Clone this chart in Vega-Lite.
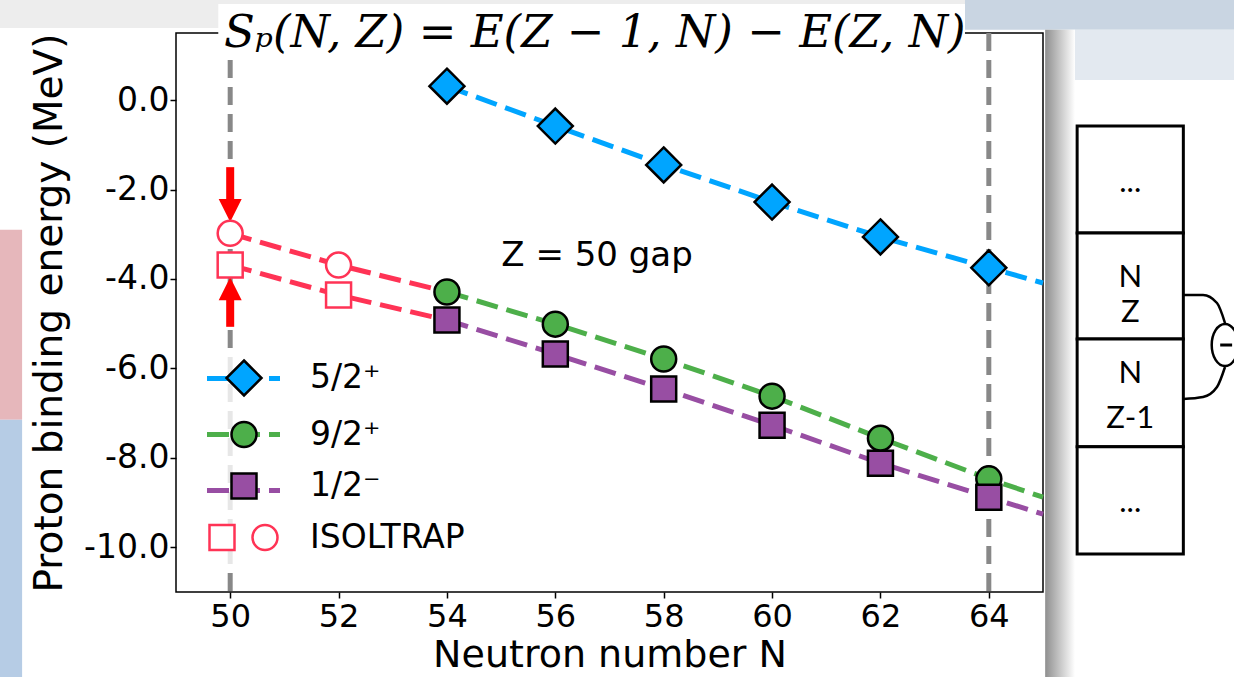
{
"$schema":"https://vega.github.io/schema/vega-lite/v6.json",
"width":867,"height":559,
"autosize":{"type":"none"},
"padding":{"left":176,"top":33,"right":191,"bottom":85},
"background":"white",
"config":{"font":"DejaVu Sans","view":{"stroke":"black","strokeWidth":1.5},
"axis":{"grid":false,"domain":false,"tickColor":"black","tickWidth":1.5,"tickSize":6,"labelColor":"black","labelFont":"DejaVu Sans","titleFont":"DejaVu Sans","titleFontWeight":"normal","titleColor":"black"},
"legend":{"labelFont":"DejaVu Sans","labelColor":"black"}},
"datasets":{
"theory":[
{"label":"5/2⁺","N":54,"E":0.31},{"label":"5/2⁺","N":56,"E":-0.58},{"label":"5/2⁺","N":58,"E":-1.45},{"label":"5/2⁺","N":60,"E":-2.28},{"label":"5/2⁺","N":62,"E":-3.06},{"label":"5/2⁺","N":64,"E":-3.75},{"label":"5/2⁺","N":65,"E":-4.09},
{"label":"9/2⁺","N":54,"E":-4.29},{"label":"9/2⁺","N":56,"E":-5.01},{"label":"9/2⁺","N":58,"E":-5.79},{"label":"9/2⁺","N":60,"E":-6.62},{"label":"9/2⁺","N":62,"E":-7.56},{"label":"9/2⁺","N":64,"E":-8.47},{"label":"9/2⁺","N":65,"E":-8.88},
{"label":"1/2⁻","N":54,"E":-4.92},{"label":"1/2⁻","N":56,"E":-5.68},{"label":"1/2⁻","N":58,"E":-6.46},{"label":"1/2⁻","N":60,"E":-7.27},{"label":"1/2⁻","N":62,"E":-8.12},{"label":"1/2⁻","N":64,"E":-8.88},{"label":"1/2⁻","N":65,"E":-9.26}],
"iso_pts":[{"k":"c","N":50,"E":-2.98},{"k":"c","N":52,"E":-3.69},{"k":"q","N":50,"E":-3.69},{"k":"q","N":52,"E":-4.36}],
"iso_lines":[{"s":"c","N":50,"E":-2.98},{"s":"c","N":52,"E":-3.69},{"s":"c","N":54,"E":-4.29},{"s":"q","N":50,"E":-3.69},{"s":"q","N":52,"E":-4.36},{"s":"q","N":54,"E":-4.92}],
"vlines":[{"N":50},{"N":64}],
"arrows":[{"N":50,"E":-1.5,"E2":-2.25},{"N":50,"E":-4.45,"E2":-5.07}],
"head_down":[{"N":50,"E":-2.47}],
"head_up":[{"N":50,"E":-4.22}],
"legend_bg":[{"N":49.5,"N2":50.5,"E":-5.59,"E2":-10.46}],
"titlebox":[{"N":49.78,"N2":63.56,"E":2.15,"E2":0.94}],
"title_text":[{"t":"Sₚ(N, Z) = E(Z − 1, N) − E(Z, N)","N":56.73,"E":1.19}],
"gap_text":[{"t":"Z = 50 gap","N":56.77,"E":-3.71}],
"cells":[{"N":65.63,"N2":67.59,"E":-0.58,"E2":-2.97},{"N":65.63,"N2":67.59,"E":-2.97,"E2":-5.34},{"N":65.63,"N2":67.59,"E":-5.34,"E2":-7.75},{"N":65.63,"N2":67.59,"E":-7.75,"E2":-10.15}],
"cell_text":[{"t":"...","N":66.61,"E":-2.06},{"t":"N","N":66.61,"E":-4.18},{"t":"Z","N":66.61,"E":-4.96},{"t":"N","N":66.61,"E":-6.33},{"t":"Z-1","N":66.61,"E":-7.33},{"t":"...","N":66.61,"E":-9.21}],
"connector":[{"p":"a","N":67.589,"E":-4.359},{"p":"a","N":67.953,"E":-4.36},{"p":"a","N":68.211,"E":-4.538},{"p":"a","N":68.359,"E":-4.985},{"p":"b","N":68.359,"E":-5.969},{"p":"b","N":68.211,"E":-6.416},{"p":"b","N":67.953,"E":-6.64},{"p":"b","N":67.589,"E":-6.684}],
"ellipse":[{"N":68.359,"E":-5.477}],
"minus":[{"N":68.27,"N2":68.49,"E":-5.477}],
"deco_top":[{"N":45.75,"N2":68.53,"E":2.24,"E2":1.61}],
"deco_topright":[{"N":63.56,"N2":68.53,"E":2.24,"E2":1.57}],
"deco_topright2":[{"N":65.04,"N2":68.53,"E":1.57,"E2":0.45}],
"deco_shadow":[{"N":65.04,"N2":65.59,"E":1.57,"E2":-12.9}],
"deco_pink":[{"N":45.75,"N2":46.16,"E":-2.9,"E2":-7.15}],
"deco_blue":[{"N":45.75,"N2":46.16,"E":-7.15,"E2":-12.9}]
},
"layer":[
{"data":{"name":"theory"},"mark":{"type":"line","strokeWidth":5,"strokeDash":[22,9],"opacity":0},
 "encoding":{
  "x":{"field":"N","type":"quantitative","scale":{"domain":[49,65],"nice":false},"axis":{"values":[50,52,54,56,58,60,62,64],"format":"d","title":"Neutron number N","labelFontSize":32,"titleFontSize":38,"labelPadding":3,"titlePadding":4,"tickSize":6}},
  "y":{"field":"E","type":"quantitative","scale":{"domain":[-11,1.5],"nice":false},"axis":{"values":[-10,-8,-6,-4,-2,0],"labelExpr":"replace(format(datum.value, '.1f'), '−', '-')","title":"Proton binding energy (MeV)","labelFontSize":33,"titleFontSize":39,"labelPadding":1,"titlePadding":14,"tickSize":6}}}},
{"data":{"name":"deco_top"},"mark":{"type":"rect","fill":"#ededed","clip":false},
 "encoding":{"x":{"field":"N","type":"quantitative","scale":{"domain":[49,65],"nice":false}},"x2":{"field":"N2"},"y":{"field":"E","type":"quantitative","scale":{"domain":[-11,1.5],"nice":false}},"y2":{"field":"E2"}}},
{"data":{"name":"deco_topright"},"mark":{"type":"rect","fill":"#c9d5e2","clip":false},
 "encoding":{"x":{"field":"N","type":"quantitative","scale":{"domain":[49,65],"nice":false}},"x2":{"field":"N2"},"y":{"field":"E","type":"quantitative","scale":{"domain":[-11,1.5],"nice":false}},"y2":{"field":"E2"}}},
{"data":{"name":"deco_topright2"},"mark":{"type":"rect","fill":"#e3e9f0","clip":false},
 "encoding":{"x":{"field":"N","type":"quantitative","scale":{"domain":[49,65],"nice":false}},"x2":{"field":"N2"},"y":{"field":"E","type":"quantitative","scale":{"domain":[-11,1.5],"nice":false}},"y2":{"field":"E2"}}},
{"data":{"name":"deco_shadow"},"mark":{"type":"rect","clip":false,"fill":{"gradient":"linear","x1":0,"y1":0,"x2":1,"y2":0,"stops":[{"offset":0,"color":"#8f8f8f"},{"offset":1,"color":"#ffffff"}]}},
 "encoding":{"x":{"field":"N","type":"quantitative","scale":{"domain":[49,65],"nice":false}},"x2":{"field":"N2"},"y":{"field":"E","type":"quantitative","scale":{"domain":[-11,1.5],"nice":false}},"y2":{"field":"E2"}}},
{"data":{"name":"deco_pink"},"mark":{"type":"rect","fill":"#e6b7bb","clip":false},
 "encoding":{"x":{"field":"N","type":"quantitative","scale":{"domain":[49,65],"nice":false}},"x2":{"field":"N2"},"y":{"field":"E","type":"quantitative","scale":{"domain":[-11,1.5],"nice":false}},"y2":{"field":"E2"}}},
{"data":{"name":"deco_blue"},"mark":{"type":"rect","fill":"#b6cce5","clip":false},
 "encoding":{"x":{"field":"N","type":"quantitative","scale":{"domain":[49,65],"nice":false}},"x2":{"field":"N2"},"y":{"field":"E","type":"quantitative","scale":{"domain":[-11,1.5],"nice":false}},"y2":{"field":"E2"}}},
{"data":{"name":"vlines"},"mark":{"type":"rule","color":"#888888","strokeWidth":5,"strokeDash":[18,9]},
 "encoding":{"x":{"field":"N","type":"quantitative","scale":{"domain":[49,65],"nice":false}}}},
{"data":{"name":"legend_bg"},"mark":{"type":"rect","fill":"white","opacity":0.8,"clip":false},
 "encoding":{"x":{"field":"N","type":"quantitative","scale":{"domain":[49,65],"nice":false}},"x2":{"field":"N2"},"y":{"field":"E","type":"quantitative","scale":{"domain":[-11,1.5],"nice":false}},"y2":{"field":"E2"}}},
{"data":{"name":"titlebox"},"mark":{"type":"rect","fill":"white","clip":false},
 "encoding":{"x":{"field":"N","type":"quantitative","scale":{"domain":[49,65],"nice":false}},"x2":{"field":"N2"},"y":{"field":"E","type":"quantitative","scale":{"domain":[-11,1.5],"nice":false}},"y2":{"field":"E2"}}},
{"data":{"name":"title_text"},"mark":{"type":"text","font":"DejaVu Serif","fontStyle":"italic","fontSize":45,"align":"center","baseline":"alphabetic","color":"black","clip":false},
 "encoding":{"x":{"field":"N","type":"quantitative","scale":{"domain":[49,65],"nice":false}},"y":{"field":"E","type":"quantitative","scale":{"domain":[-11,1.5],"nice":false}},"text":{"field":"t","type":"nominal"}}},
{"data":{"name":"iso_lines"},"mark":{"type":"line","color":"#ff3355","strokeWidth":5,"strokeDash":[22,9]},
 "encoding":{"x":{"field":"N","type":"quantitative","scale":{"domain":[49,65],"nice":false}},"y":{"field":"E","type":"quantitative","scale":{"domain":[-11,1.5],"nice":false}},"detail":{"field":"s","type":"nominal"}}},
{"data":{"name":"theory"},"mark":{"type":"line","strokeWidth":5,"strokeDash":[22,9]},
 "encoding":{
  "x":{"field":"N","type":"quantitative","scale":{"domain":[49,65],"nice":false}},
  "y":{"field":"E","type":"quantitative","scale":{"domain":[-11,1.5],"nice":false}},
  "color":{"field":"label","type":"nominal","scale":{"domain":["5/2⁺","9/2⁺","1/2⁻"],"range":["#00a5ff","#4daf4a","#984ea3"]},
   "legend":{"orient":"none","legendX":28.5,"legendY":306.5,"title":null,"padding":0,"labelFontSize":33,"labelExpr":"''","rowPadding":-1.5,"symbolType":"stroke","symbolSize":5329,"symbolStrokeWidth":5,"symbolDash":[22,9]}}}},
{"data":{"name":"arrows"},"mark":{"type":"rule","color":"#ff0000","strokeWidth":8},
 "encoding":{"x":{"field":"N","type":"quantitative","scale":{"domain":[49,65],"nice":false}},"y":{"field":"E","type":"quantitative","scale":{"domain":[-11,1.5],"nice":false}},"y2":{"field":"E2"}}},
{"data":{"name":"head_down"},"mark":{"type":"point","shape":"M-1,-1L1,-1L0,1Z","filled":true,"fill":"#ff0000","strokeWidth":0,"size":529,"opacity":1},
 "encoding":{"x":{"field":"N","type":"quantitative","scale":{"domain":[49,65],"nice":false}},"y":{"field":"E","type":"quantitative","scale":{"domain":[-11,1.5],"nice":false}}}},
{"data":{"name":"head_up"},"mark":{"type":"point","shape":"M-1,1L1,1L0,-1Z","filled":true,"fill":"#ff0000","strokeWidth":0,"size":529,"opacity":1},
 "encoding":{"x":{"field":"N","type":"quantitative","scale":{"domain":[49,65],"nice":false}},"y":{"field":"E","type":"quantitative","scale":{"domain":[-11,1.5],"nice":false}}}},
{"data":{"name":"iso_pts"},"transform":[{"filter":"datum.k == 'c'"}],"mark":{"type":"point","shape":"circle","filled":true,"fill":"white","stroke":"#ff3355","strokeWidth":2.5,"size":625,"opacity":1},
 "encoding":{"x":{"field":"N","type":"quantitative","scale":{"domain":[49,65],"nice":false}},"y":{"field":"E","type":"quantitative","scale":{"domain":[-11,1.5],"nice":false}}}},
{"data":{"name":"iso_pts"},"transform":[{"filter":"datum.k == 'q'"}],"mark":{"type":"point","shape":"square","filled":true,"fill":"white","stroke":"#ff3355","strokeWidth":2.5,"size":625,"opacity":1},
 "encoding":{"x":{"field":"N","type":"quantitative","scale":{"domain":[49,65],"nice":false}},"y":{"field":"E","type":"quantitative","scale":{"domain":[-11,1.5],"nice":false}}}},
{"data":{"name":"theory"},"transform":[{"filter":"datum.N < 65"}],"mark":{"type":"point","filled":true,"size":625,"strokeWidth":2.5,"opacity":1},
 "encoding":{"x":{"field":"N","type":"quantitative","scale":{"domain":[49,65],"nice":false}},"y":{"field":"E","type":"quantitative","scale":{"domain":[-11,1.5],"nice":false}},
  "fill":{"field":"label","type":"nominal","scale":{"domain":["5/2⁺","9/2⁺","1/2⁻","ISOLTRAP"],"range":["#00a5ff","#4daf4a","#984ea3","#ffffff"]},
   "legend":{"orient":"none","legendX":51.5,"legendY":328.5,"title":null,"padding":0,"labelFontSize":33,"labelOffset":49.5,"rowPadding":16.5,"symbolStrokeWidth":2.5,"symbolSize":625}},
  "shape":{"field":"label","type":"nominal","scale":{"domain":["5/2⁺","9/2⁺","1/2⁻","ISOLTRAP"],"range":["M0,-1.4L1.4,0L0,1.4L-1.4,0Z","circle","square","M-2.76,-1L-0.76,-1L-0.76,1L-2.76,1Z M2.68,0A1,1,0,1,1,0.68,0A1,1,0,1,1,2.68,0Z"]},
   "legend":{"orient":"none","legendX":51.5,"legendY":328.5,"title":null,"padding":0,"labelFontSize":33,"labelOffset":49.5,"rowPadding":16.5,"symbolStrokeWidth":2.5,"symbolSize":625}},
  "stroke":{"field":"label","type":"nominal","scale":{"domain":["5/2⁺","9/2⁺","1/2⁻","ISOLTRAP"],"range":["#000000","#000000","#000000","#ff3355"]},
   "legend":{"orient":"none","legendX":51.5,"legendY":328.5,"title":null,"padding":0,"labelFontSize":33,"labelOffset":49.5,"rowPadding":16.5,"symbolStrokeWidth":2.5,"symbolSize":625}}}},
{"data":{"name":"gap_text"},"mark":{"type":"text","font":"DejaVu Sans","fontSize":34,"align":"center","baseline":"alphabetic","color":"black"},
 "encoding":{"x":{"field":"N","type":"quantitative","scale":{"domain":[49,65],"nice":false}},"y":{"field":"E","type":"quantitative","scale":{"domain":[-11,1.5],"nice":false}},"text":{"field":"t","type":"nominal"}}},
{"data":{"name":"cells"},"mark":{"type":"rect","fill":"white","stroke":"black","strokeWidth":3,"clip":false},
 "encoding":{"x":{"field":"N","type":"quantitative","scale":{"domain":[49,65],"nice":false}},"x2":{"field":"N2"},"y":{"field":"E","type":"quantitative","scale":{"domain":[-11,1.5],"nice":false}},"y2":{"field":"E2"}}},
{"data":{"name":"cell_text"},"mark":{"type":"text","font":"Lato","fontSize":31,"align":"center","baseline":"alphabetic","color":"black","clip":false},
 "encoding":{"x":{"field":"N","type":"quantitative","scale":{"domain":[49,65],"nice":false}},"y":{"field":"E","type":"quantitative","scale":{"domain":[-11,1.5],"nice":false}},"text":{"field":"t","type":"nominal"}}},
{"data":{"name":"connector"},"mark":{"type":"line","color":"black","strokeWidth":2.5,"interpolate":"monotone","clip":false},
 "encoding":{"x":{"field":"N","type":"quantitative","scale":{"domain":[49,65],"nice":false}},"y":{"field":"E","type":"quantitative","scale":{"domain":[-11,1.5],"nice":false}},"detail":{"field":"p","type":"nominal"}}},
{"data":{"name":"ellipse"},"mark":{"type":"point","shape":"M0,-1.58A1,1.58,0,1,1,0,1.58A1,1.58,0,1,1,0,-1.58Z","filled":true,"fill":"white","stroke":"black","strokeWidth":2.5,"size":708,"opacity":1,"clip":false},
 "encoding":{"x":{"field":"N","type":"quantitative","scale":{"domain":[49,65],"nice":false}},"y":{"field":"E","type":"quantitative","scale":{"domain":[-11,1.5],"nice":false}}}},
{"data":{"name":"minus"},"mark":{"type":"rule","color":"black","strokeWidth":3,"clip":false},
 "encoding":{"x":{"field":"N","type":"quantitative","scale":{"domain":[49,65],"nice":false}},"x2":{"field":"N2"},"y":{"field":"E","type":"quantitative","scale":{"domain":[-11,1.5],"nice":false}}}}
]
}
